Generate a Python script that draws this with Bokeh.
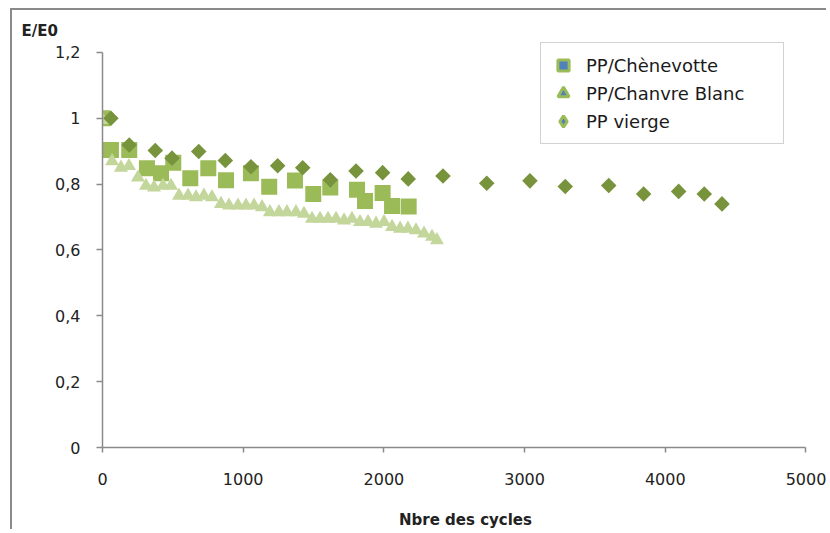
import numpy as np
from bokeh.plotting import figure
from bokeh.models import Range1d, FixedTicker
from bokeh.embed import file_html
from bokeh.resources import INLINE

# ---- data ----
# PP/Chènevotte (squares)
chen_x = [0, 60, 190, 316, 416, 503, 624, 752, 878, 1055, 1185, 1368, 1498, 1619, 1809, 1866, 1991, 2058, 2176]
chen_y = [1.0, 0.904, 0.904, 0.848, 0.833, 0.865, 0.818, 0.848, 0.812, 0.833, 0.792, 0.811, 0.770, 0.790, 0.783, 0.749, 0.773, 0.734, 0.732]

# PP/Chanvre Blanc (triangles)
chanvre_x = [0, 68, 131, 188, 252, 309, 366, 430, 487, 544, 608, 665, 721, 778, 842, 899, 963, 1020, 1077, 1134, 1190,
             1254, 1311, 1375, 1432, 1489, 1546, 1603, 1660, 1717, 1773, 1830, 1887, 1944, 2001, 2058, 2115, 2171,
             2228, 2285, 2342, 2377]
chanvre_y = [0.995, 0.87, 0.85, 0.855, 0.82, 0.795, 0.79, 0.795, 0.795, 0.765, 0.765, 0.76, 0.765, 0.76, 0.74, 0.735,
             0.735, 0.735, 0.735, 0.73, 0.715, 0.715, 0.715, 0.715, 0.71, 0.695, 0.695, 0.695, 0.695, 0.69, 0.695,
             0.685, 0.685, 0.68, 0.685, 0.67, 0.665, 0.665, 0.66, 0.65, 0.64, 0.63]

# PP vierge (diamonds)
vierge_x = [60, 190, 375, 494, 684, 873, 1055, 1245, 1423, 1619, 1802, 1991, 2173, 2420, 2731, 3038, 3289, 3598,
            3846, 4095, 4277, 4403]
vierge_y = [1.0, 0.919, 0.902, 0.879, 0.899, 0.872, 0.853, 0.856, 0.850, 0.813, 0.840, 0.835, 0.816, 0.825, 0.803,
            0.810, 0.793, 0.796, 0.770, 0.778, 0.770, 0.740]

series_names = ["PP/Chènevotte", "PP/Chanvre Blanc", "PP vierge"]

x_ticks = [0, 1000, 2000, 3000, 4000, 5000]
x_tick_labels = ["0", "1000", "2000", "3000", "4000", "5000"]
y_ticks = [0, 0.2, 0.4, 0.6, 0.8, 1, 1.2]
y_tick_labels = ["0", "0,2", "0,4", "0,6", "0,8", "1", "1,2"]

x_title = "Nbre des cycles"
y_title = "E/E0"

FONT = "DejaVu Sans"

p = figure(width=816, height=521, x_range=Range1d(0, 5160), y_range=Range1d(0, 1.2303),
           output_backend="svg", toolbar_location=None,
           min_border_left=90, min_border_right=0, min_border_top=32, min_border_bottom=83)
p.styles = {"margin-left": "10px", "margin-top": "8px",
            "border-left": "2px solid #8a8a8a", "border-top": "2px solid #8a8a8a"}
p.outline_line_color = None
p.xgrid.visible = False
p.ygrid.visible = False
p.background_fill_color = "white"
p.border_fill_color = "white"

# y title in the top-left corner, like the Excel chart
p.title.text = y_title
p.title.align = "left"
p.title.offset = -81
p.title.standoff = 6
p.title.text_font = FONT
p.title.text_font_size = "15px"
p.title.text_font_style = "bold"
p.title.text_color = "#222222"

# data series
p.scatter(chen_x, chen_y, marker="square", size=16, fill_color="#9BBB59", line_color=None)
p.scatter(chanvre_x, chanvre_y, marker="triangle", size=14, fill_color="#C3D69B", line_color=None)
p.scatter(vierge_x, vierge_y, marker="square", angle=np.pi / 4, size=11, fill_color="#77933C", line_color=None)

# legend entries (Excel-style legend markers), invisible points
nan_x = [np.nan]
nan_y = [np.nan]
p.scatter(nan_x, nan_y, marker="square", fill_color="#4F81BD", line_color="#9BBB59", line_width=3,
          legend_label=series_names[0])
p.scatter(nan_x, nan_y, marker="triangle", fill_color="#4F81BD", line_color="#9BBB59", line_width=3,
          legend_label=series_names[1])
p.scatter(nan_x, nan_y, marker="diamond", fill_color="#4F81BD", line_color="#9BBB59",
          line_width=3, legend_label=series_names[2])

lg = p.legend[0]
lg.location = (438, 303)
lg.glyph_width = 28
lg.glyph_height = 28
lg.label_height = 28
lg.label_width = 189
lg.spacing = 0
lg.padding = 8
lg.margin = 0
lg.label_standoff = 9
lg.label_text_font = FONT
lg.label_text_font_size = "18px"
lg.label_text_color = "#1a1a1a"
lg.border_line_color = "#a6a6a6"
lg.border_line_width = 1.5
lg.background_fill_color = "white"
lg.background_fill_alpha = 1.0

# axes
for ax in (p.xaxis[0], p.yaxis[0]):
    ax.axis_line_color = "#8a8a8a"
    ax.axis_line_width = 1.5
    ax.major_tick_line_color = "#8a8a8a"
    ax.major_tick_line_width = 1.5
    ax.major_tick_in = 0
    ax.minor_tick_line_color = None
    ax.major_label_text_font = FONT
    ax.major_label_text_font_size = "16px"
    ax.major_label_text_color = "#222222"

xa = p.xaxis[0]
xa.ticker = FixedTicker(ticks=x_ticks)
xa.major_label_overrides = dict(zip(x_ticks, x_tick_labels))
xa.bounds = (x_ticks[0], x_ticks[-1])
xa.major_tick_out = 5
xa.major_label_standoff = 20
xa.axis_label = x_title
xa.axis_label_text_font = FONT
xa.axis_label_text_font_size = "15px"
xa.axis_label_text_font_style = "bold"
xa.axis_label_text_color = "#222222"
xa.axis_label_standoff = 23

ya = p.yaxis[0]
ya.ticker = FixedTicker(ticks=y_ticks)
ya.major_label_overrides = dict(zip(y_ticks, y_tick_labels))
ya.bounds = (y_ticks[0], y_ticks[-1])
ya.major_tick_out = 6
ya.major_label_standoff = 16

open("out.html", "w").write(file_html(p, INLINE))
